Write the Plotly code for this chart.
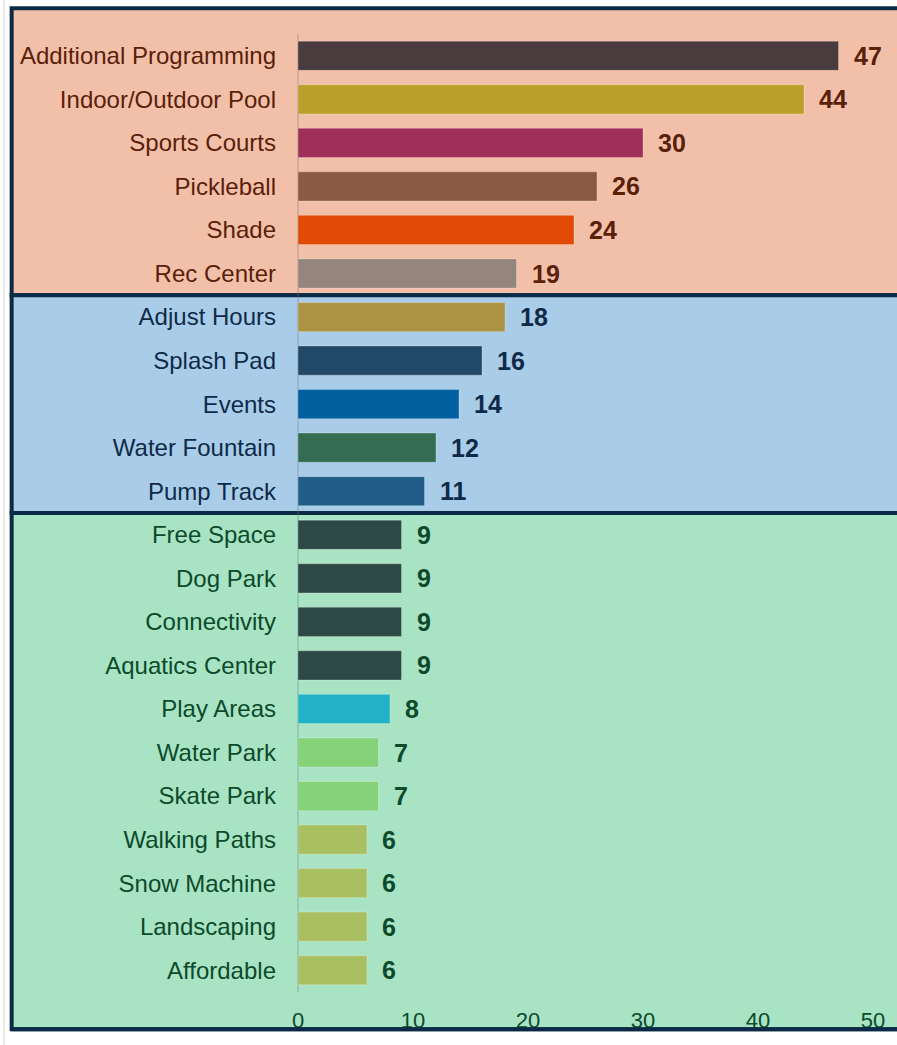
import plotly.graph_objects as go

categories = ["Additional Programming", "Indoor/Outdoor Pool", "Sports Courts", "Pickleball", "Shade",
              "Rec Center", "Adjust Hours", "Splash Pad", "Events", "Water Fountain", "Pump Track",
              "Free Space", "Dog Park", "Connectivity", "Aquatics Center", "Play Areas", "Water Park",
              "Skate Park", "Walking Paths", "Snow Machine", "Landscaping", "Affordable"]
values = [47, 44, 30, 26, 24, 19, 18, 16, 14, 12, 11, 9, 9, 9, 9, 8, 7, 7, 6, 6, 6, 6]
bar_colors = ["#4A3C3E", "#B8A02A", "#9E2F58", "#8B5A44", "#E04A04", "#94857D",
              "#AD9445", "#224868", "#0060A0", "#356D52", "#205E88",
              "#2D4946", "#2D4946", "#2D4946", "#2D4946", "#22B2C8", "#85D27A",
              "#85D27A", "#A9C062", "#A9C062", "#A9C062", "#A9C062"]
groups = [0] * 6 + [1] * 5 + [2] * 11
group_bg = ["#F2C0A9", "#A9CDE8", "#A8E3C4"]
group_text = ["#5A200A", "#0F2A48", "#0C4A2A"]
x_ticks = [0, 10, 20, 30, 40, 50]

n = len(categories)
fig = go.Figure()
fig.add_trace(go.Bar(
    x=values, y=categories, orientation="h",
    marker=dict(color=bar_colors, line=dict(color="rgba(255,255,255,0.25)", width=1)),
    width=0.67, hoverinfo="skip", showlegend=False,
))

for c, v, g in zip(categories, values, groups):
    fig.add_annotation(x=v, y=c, xref="x", yref="y", text=f"<b>{v}</b>", showarrow=False,
                       xanchor="left", xshift=13, font=dict(size=25, color=group_text[g],
                                                            family="Liberation Sans, Arial"))

# band rectangles
bounds = []
start = 0
for gi in range(3):
    cnt = groups.count(gi)
    bounds.append((start, start + cnt))
    start += cnt
bottom_y = -0.039
for gi, (a, b) in enumerate(bounds):
    top = 1 - a / n
    bot = 1 - b / n
    if gi == 0:
        top = 1.027
    if gi == 2:
        bot = bottom_y
    fig.add_shape(type="rect", xref="paper", yref="paper", x0=-0.498, x1=1.2, y0=bot, y1=top,
                  fillcolor=group_bg[gi], line=dict(color="#0B2A45", width=4), layer="below")

# bottom border drawn over the tick labels
fig.add_shape(type="line", xref="paper", yref="paper", x0=-0.498, x1=1.2, y0=bottom_y, y1=bottom_y,
              line=dict(color="#0B2A45", width=4), layer="above")

fig.add_shape(type="line", xref="paper", yref="paper", x0=-0.5113, x1=-0.5113, y0=-0.06, y1=1.04,
              line=dict(color="#D2D2D2", width=1), layer="below")

ticktext = [f"<span style='color:{group_text[g]}'>{c}</span>" for c, g in zip(categories, groups)]

fig.update_yaxes(type="category", categoryorder="array", categoryarray=categories,
                 range=[n - 0.5, -0.5], tickmode="array", tickvals=categories, ticktext=ticktext,
                 tickfont=dict(size=24, family="Liberation Sans, Arial"), showgrid=False,
                 ticks="", ticklabelstandoff=21, showline=False, zeroline=False)
fig.update_xaxes(range=[0, 50], tickvals=x_ticks, showgrid=False, zeroline=True,
                 zerolinecolor="rgba(110,120,130,0.25)", zerolinewidth=2,
                 tickfont=dict(size=22, color="#0C4A2A", family="Liberation Sans, Arial"),
                 ticks="", ticklabelstandoff=13, showline=False)

fig.update_layout(width=897, height=1045, margin=dict(l=298, r=23, t=34, b=51),
                  paper_bgcolor="white", plot_bgcolor="rgba(0,0,0,0)", bargap=0.33)

fig.write_html("out.html", config={"displayModeBar": False},
               post_script="document.body.style.margin='0';document.body.style.overflow='hidden';")
